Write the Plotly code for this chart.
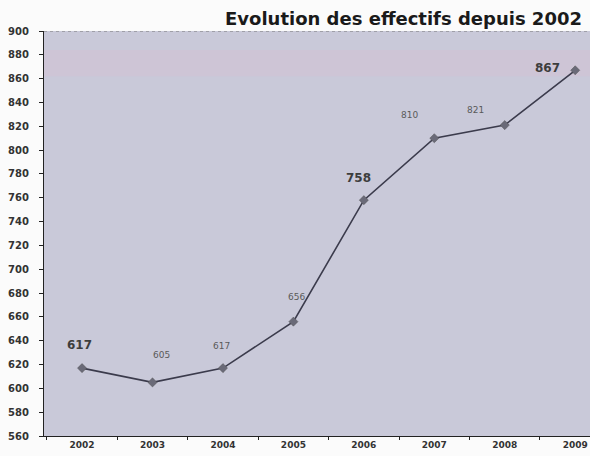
import plotly.graph_objects as go

years = ["2002", "2003", "2004", "2005", "2006", "2007", "2008", "2009"]
effectifs = [617, 605, 617, 656, 758, 810, 821, 867]
label_bold = [True, False, False, False, True, False, False, True]
label_dx = [-3, 9, -1, 3, -5, -25, -29, -28]
label_dy = [23, 27, 22, 25, 22, 23, 15, 2]

FONT = "DejaVu Sans, Verdana, sans-serif"

fig = go.Figure()
fig.add_trace(go.Scatter(
    x=years, y=effectifs, mode="lines+markers",
    line=dict(color="#3b3b4c", width=1.6),
    marker=dict(symbol="diamond", size=7, color="#6a6a78", line=dict(color="#555", width=0.5)),
    hoverinfo="skip", showlegend=False,
))

for i, (v, b, dx, dy) in enumerate(zip(effectifs, label_bold, label_dx, label_dy)):
    fig.add_annotation(
        x=i, y=v, text=f"<b>{v}</b>" if b else str(v), showarrow=False, xshift=dx, yshift=dy,
        font=dict(family=FONT, size=12 if b else 9, color="#3d3d3d" if b else "#5a5a5a"),
    )

# title
fig.add_annotation(
    xref="paper", yref="paper", x=1.0, xanchor="right", y=1.0, yanchor="bottom", yshift=0,
    text="<b>Evolution des effectifs depuis 2002</b>", showarrow=False, xshift=-6,
    font=dict(family=FONT, size=18, color="#1a1a1a"),
)

# top dashed border of the plot area
fig.add_shape(type="line", xref="paper", yref="y", x0=0, x1=1, y0=900, y1=900,
              line=dict(color="#777", width=1, dash="dot"))
# faint pinkish band near the top
fig.add_shape(type="rect", xref="paper", yref="y", x0=0, x1=1, y0=862, y1=884,
              fillcolor="rgba(215,190,210,0.35)", line=dict(width=0), layer="below")

fig.update_layout(
    width=590, height=456,
    margin=dict(l=44, r=0, t=31, b=20),
    paper_bgcolor="#fbfbfb",
    plot_bgcolor="#c9c9d9",
    xaxis=dict(type="category", range=[-0.54, 7.21], tickson="boundaries",
               showline=True, linecolor="#222", linewidth=1.2,
               ticks="outside", ticklen=3, tickcolor="#222",
               showgrid=False, zeroline=False,
               tickfont=dict(family=FONT, size=9, color="#333", weight="bold")),
    yaxis=dict(range=[560, 900], dtick=20, tick0=560,
               showline=True, linecolor="#222", linewidth=1.2,
               ticks="outside", ticklen=4, tickcolor="#222",
               showgrid=False, zeroline=False, ticklabelstandoff=8,
               tickfont=dict(family=FONT, size=10, color="#333", weight="bold")),
)

fig.write_html("out.html", config={"displayModeBar": False},
               post_script="document.body.style.margin='0';document.body.style.overflow='hidden';")
